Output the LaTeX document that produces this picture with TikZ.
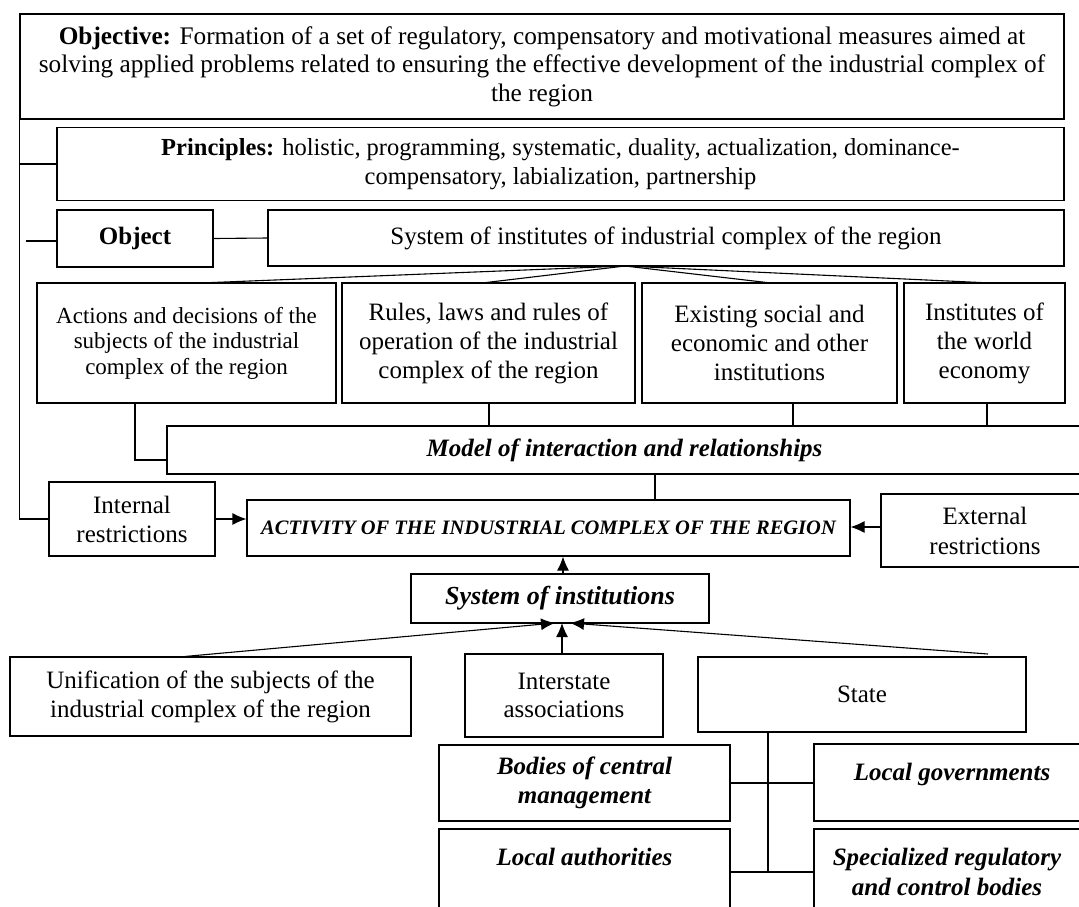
\documentclass[tikz,border=0pt]{standalone}
\usepackage{fontspec}
\setmainfont{Liberation Serif}
\usetikzlibrary{arrows.meta}
\begin{document}
\begin{tikzpicture}[x=1pt,y=-1pt,
  box/.style={draw, line width=1.1pt, inner sep=0pt, align=center, font=\fontsize{25}{29}\selectfont},
  bib/.style={font=\fontsize{25}{29}\selectfont\bfseries\itshape},
  txt/.style={inner sep=0pt, align=center},
  conn/.style={line width=1.1pt},
  arr/.style={line width=1.1pt, -{Latex[length=14pt,width=12pt]}}]
\useasboundingbox (0,0) rectangle (1079,906);

% top
\node[box, minimum width=1044pt, minimum height=105pt, font=\fontsize{25.3}{28.5}\selectfont] (obj) at (542,66.5)
  {\textbf{Objective:} Formation of a set of regulatory, compensatory and motivational measures aimed at\\
   solving applied problems related to ensuring the effective development of the industrial complex of\\
   the region};
\node[box, minimum width=1007pt, minimum height=73pt, font=\fontsize{24.5}{29}\selectfont] (princ) at (560.5,164)
  {\textbf{Principles:} holistic, programming, systematic, duality, actualization, dominance-\\
   compensatory, labialization, partnership};
\node[box, minimum width=156pt, minimum height=57pt] (object) at (135,238.5) {\textbf{Object}};
\node[box, minimum width=796pt, minimum height=56pt] (sysinst) at (666,238) {System of institutes of industrial complex of the region};

% four boxes
\node[box, minimum width=299pt, minimum height=120pt, font=\fontsize{23}{25.5}\selectfont] (actions) at (186.5,343)
  {Actions and decisions of the\\ subjects of the industrial\\ complex of the region};
\node[box, minimum width=293pt, minimum height=120pt] (rules) at (488.5,343)
  {Rules, laws and rules of\\ operation of the industrial\\ complex of the region};
\node[box, minimum width=255pt, minimum height=120pt] (existing) at (769.5,343)
  {Existing social and\\ economic and other\\ institutions};
\node[box, minimum width=161pt, minimum height=120pt] (world) at (984.5,343)
  {Institutes of\\ the world\\ economy};

\node[box, minimum width=915pt, minimum height=48pt, bib] (model) at (624.5,450)
  {Model of interaction and relationships};

% activity row
\node[box, minimum width=166pt, minimum height=74pt] (internal) at (132,519) {Internal\\ restrictions};
\node[box, minimum width=603pt, minimum height=56pt, font=\fontsize{20.5}{24}\selectfont\bfseries\itshape] (activity) at (548.5,528)
  {ACTIVITY OF THE INDUSTRIAL COMPLEX OF THE REGION};
\node[box, minimum width=210pt, minimum height=73pt] (external) at (986,530.5) {};
\node[txt, font=\fontsize{25}{30}\selectfont] (externaltxt) at (985,530.5) {External\\ restrictions};

\node[box, minimum width=298pt, minimum height=49pt, font=\fontsize{26}{29}\selectfont\bfseries\itshape] (sysinstit) at (560,598.5) {System of institutions};

% bottom row
\node[box, minimum width=401pt, minimum height=79pt] (unif) at (210.5,696.5)
  {Unification of the subjects of the\\ industrial complex of the region};
\node[box, minimum width=198pt, minimum height=83pt, font=\fontsize{25}{28}\selectfont] (inter) at (564,695.5) {Interstate\\ associations};
\node[box, minimum width=328pt, minimum height=75pt] (state) at (862,694.5) {State};

\node[box, minimum width=291pt, minimum height=76pt, bib] (bodies) at (584.5,783) {Bodies of central\\ management};
\node[box, minimum width=290pt, minimum height=77pt] (localgov) at (959,782.5) {};
\node[txt, bib] (localgovtxt) at (952,774) {Local governments};
\node[box, minimum width=291pt, minimum height=110pt] (localauth) at (584.5,884) {};
\node[txt, bib] (localauthtxt) at (584.5,857) {Local authorities};
\node[box, minimum width=290pt, minimum height=110pt] (special) at (959,884) {};
\node[txt, bib, font=\fontsize{25}{30}\selectfont\bfseries\itshape] (specialtxt) at (947,872) {Specialized regulatory\\ and control bodies};

% left bus
\draw[conn] (obj.south west) |- (internal.west);
\draw[conn] (princ.west) -- (obj.south west |- princ.west);
\coordinate (objl) at (26,241);
\draw[conn] (objl) -- (object.west |- objl);
\draw[conn] (object.east) -- (sysinst.west);

% fan from system of institutes
\coordinate (apex) at (625,266);
\draw[conn] (apex) -- (200,283);
\draw[conn] (apex) -- (482,283);
\draw[conn] (apex) -- (771,283);
\draw[conn] (apex) -- (991,283);

% to model
\coordinate (am) at (135,460);
\draw[conn] (actions.south -| am) |- (model.west |- am);
\draw[conn] (rules.south -| 489,0) -- (model.north -| 489,0);
\draw[conn] (existing.south -| 793,0) -- (model.north -| 793,0);
\draw[conn] (world.south -| 987,0) -- (model.north -| 987,0);
\draw[conn] (model.south -| 655,0) -- (activity.north -| 655,0);

% arrows to activity
\draw[arr] (internal.east) -- (activity.west |- internal.east);
\draw[arr] (external.west |- 0,527) -- (activity.east |- 0,527);
\draw[arr] (sysinstit.north -| 563,0) -- (activity.south -| 563,0);

% arrows to system of institutions
\draw[arr] (unif.north -| 185,0) -- (555,623);
\draw[arr] (inter.north -| 562,0) -- (562,623);
\draw[arr] (988,654) -- (570,623);

% state bus
\coordinate (sb) at (768,872);
\draw[conn] (state.south -| sb) -- (sb);
\draw[conn] (bodies.east) -- (localgov.west |- bodies.east);
\draw[conn] (localauth.east |- sb) -- (special.west |- sb);
\end{tikzpicture}
\end{document}
